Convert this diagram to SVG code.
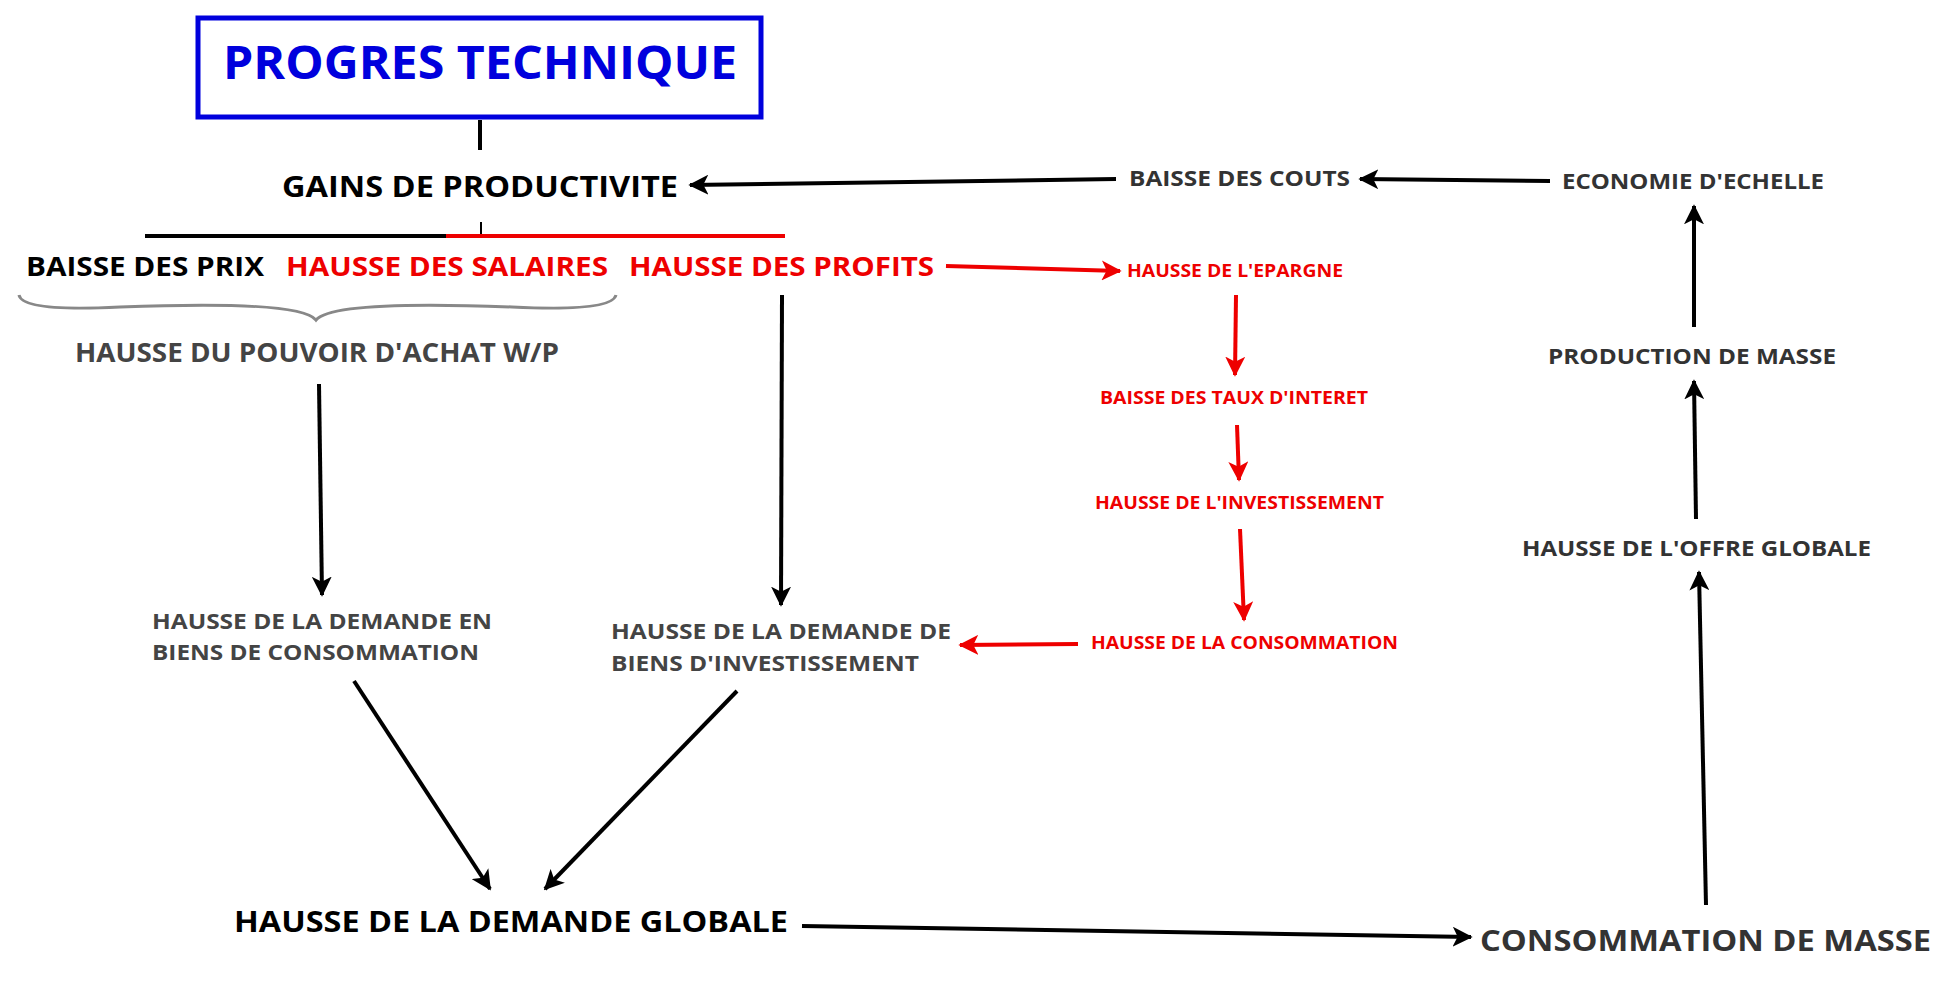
<svg xmlns="http://www.w3.org/2000/svg" width="1950" height="985" viewBox="0 0 1950 985">
<defs>
<marker id="ab" viewBox="0 0 12 12" refX="11" refY="6" markerWidth="5" markerHeight="5" markerUnits="strokeWidth" orient="auto"><path d="M0,0 L12,6 L0,12 L3,6 Z" fill="#000"/></marker>
<marker id="ar" viewBox="0 0 12 12" refX="11" refY="6" markerWidth="5" markerHeight="5" markerUnits="strokeWidth" orient="auto"><path d="M0,0 L12,6 L0,12 L3,6 Z" fill="#e00"/></marker>
</defs>
<style>
text{font-family:"Open Sans","DejaVu Sans",sans-serif;font-weight:bold}
.k{fill:#000}.r{fill:#e00}.g{fill:#444}.d{fill:#333}
.cb{stroke:#000;stroke-width:4;fill:none}
.cr{stroke:#e00;stroke-width:4;fill:none}
</style>
<rect width="1950" height="985" fill="#fff"/>
<g id="n-progres"><rect x="198" y="18" width="563" height="99" fill="none" stroke="#0000dd" stroke-width="5"/><text x="480" y="79" font-size="46" fill="#0000dd" text-anchor="middle" textLength="514" lengthAdjust="spacingAndGlyphs">PROGRES TECHNIQUE</text></g>
<g id="n-gains"><text x="282" y="197" font-size="29" class="k" textLength="396" lengthAdjust="spacingAndGlyphs">GAINS DE PRODUCTIVITE</text></g>
<g id="n-prix"><text x="26" y="276" font-size="27" class="k" textLength="238" lengthAdjust="spacingAndGlyphs">BAISSE DES PRIX</text></g>
<g id="n-salaires"><text x="286" y="276" font-size="27" class="r" textLength="322" lengthAdjust="spacingAndGlyphs">HAUSSE DES SALAIRES</text></g>
<g id="n-profits"><text x="629" y="276" font-size="27" class="r" textLength="305" lengthAdjust="spacingAndGlyphs">HAUSSE DES PROFITS</text></g>
<g id="n-pouvoir"><path d="M19,295 Q22,312 120,307 Q300,300 316,320 Q332,300 512,307 Q612,312 616,295" fill="none" stroke="#888" stroke-width="3"/><text x="75" y="362" font-size="26" class="g" textLength="484" lengthAdjust="spacingAndGlyphs">HAUSSE DU POUVOIR D'ACHAT W/P</text></g>
<g id="n-demconso"><text x="152" y="629" font-size="22" class="g" textLength="340" lengthAdjust="spacingAndGlyphs">HAUSSE DE LA DEMANDE EN</text><text x="152" y="660" font-size="22" class="g" textLength="327" lengthAdjust="spacingAndGlyphs">BIENS DE CONSOMMATION</text></g>
<g id="n-deminv"><text x="611" y="639" font-size="22" class="g" textLength="340" lengthAdjust="spacingAndGlyphs">HAUSSE DE LA DEMANDE DE</text><text x="611" y="671" font-size="22" class="g" textLength="308" lengthAdjust="spacingAndGlyphs">BIENS D'INVESTISSEMENT</text></g>
<g id="n-demglob"><text x="234" y="932" font-size="29" class="k" textLength="554" lengthAdjust="spacingAndGlyphs">HAUSSE DE LA DEMANDE GLOBALE</text></g>
<g id="n-consomasse"><text x="1480" y="951" font-size="29" class="d" textLength="451" lengthAdjust="spacingAndGlyphs">CONSOMMATION DE MASSE</text></g>
<g id="n-offre"><text x="1522" y="556" font-size="22" class="d" textLength="349" lengthAdjust="spacingAndGlyphs">HAUSSE DE L'OFFRE GLOBALE</text></g>
<g id="n-prodmasse"><text x="1548" y="364" font-size="22" class="d" textLength="288" lengthAdjust="spacingAndGlyphs">PRODUCTION DE MASSE</text></g>
<g id="n-echelle"><text x="1562" y="189" font-size="22" class="d" textLength="262" lengthAdjust="spacingAndGlyphs">ECONOMIE D'ECHELLE</text></g>
<g id="n-couts"><text x="1129" y="186" font-size="22" class="d" textLength="221" lengthAdjust="spacingAndGlyphs">BAISSE DES COUTS</text></g>
<g id="n-epargne"><text x="1127" y="277" font-size="18" class="r" textLength="216" lengthAdjust="spacingAndGlyphs">HAUSSE DE L'EPARGNE</text></g>
<g id="n-taux"><text x="1100" y="404" font-size="18" class="r" textLength="268" lengthAdjust="spacingAndGlyphs">BAISSE DES TAUX D'INTERET</text></g>
<g id="n-invest"><text x="1095" y="509" font-size="18" class="r" textLength="289" lengthAdjust="spacingAndGlyphs">HAUSSE DE L'INVESTISSEMENT</text></g>
<g id="n-conso"><text x="1091" y="649" font-size="18" class="r" textLength="307" lengthAdjust="spacingAndGlyphs">HAUSSE DE LA CONSOMMATION</text></g>
<g id="connectors">
<line x1="480" y1="120" x2="480" y2="150" class="cb"/>
<line x1="481" y1="222" x2="481" y2="236" stroke="#000" stroke-width="2"/>
<line x1="145" y1="236" x2="446" y2="236" class="cb"/>
<line x1="446" y1="236" x2="785" y2="236" class="cr"/>
<line x1="319" y1="384" x2="322" y2="595" class="cb" marker-end="url(#ab)"/>
<line x1="782" y1="295" x2="781" y2="605" class="cb" marker-end="url(#ab)"/>
<line x1="1078" y1="644" x2="960" y2="645" class="cr" marker-end="url(#ar)"/>
<line x1="354" y1="681" x2="490" y2="889" class="cb" marker-end="url(#ab)"/>
<line x1="737" y1="691" x2="545" y2="889" class="cb" marker-end="url(#ab)"/>
<line x1="802" y1="926" x2="1471" y2="937" class="cb" marker-end="url(#ab)"/>
<line x1="1706" y1="905" x2="1699" y2="572" class="cb" marker-end="url(#ab)"/>
<line x1="1696" y1="519" x2="1694" y2="381" class="cb" marker-end="url(#ab)"/>
<line x1="1694" y1="327" x2="1694" y2="206" class="cb" marker-end="url(#ab)"/>
<line x1="1550" y1="181" x2="1360" y2="179" class="cb" marker-end="url(#ab)"/>
<line x1="1116" y1="179" x2="690" y2="185" class="cb" marker-end="url(#ab)"/>
<line x1="946" y1="266" x2="1120" y2="271" class="cr" marker-end="url(#ar)"/>
<line x1="1236" y1="295" x2="1235" y2="375" class="cr" marker-end="url(#ar)"/>
<line x1="1237" y1="425" x2="1239" y2="480" class="cr" marker-end="url(#ar)"/>
<line x1="1240" y1="529" x2="1244" y2="620" class="cr" marker-end="url(#ar)"/>
</g>
</svg>
